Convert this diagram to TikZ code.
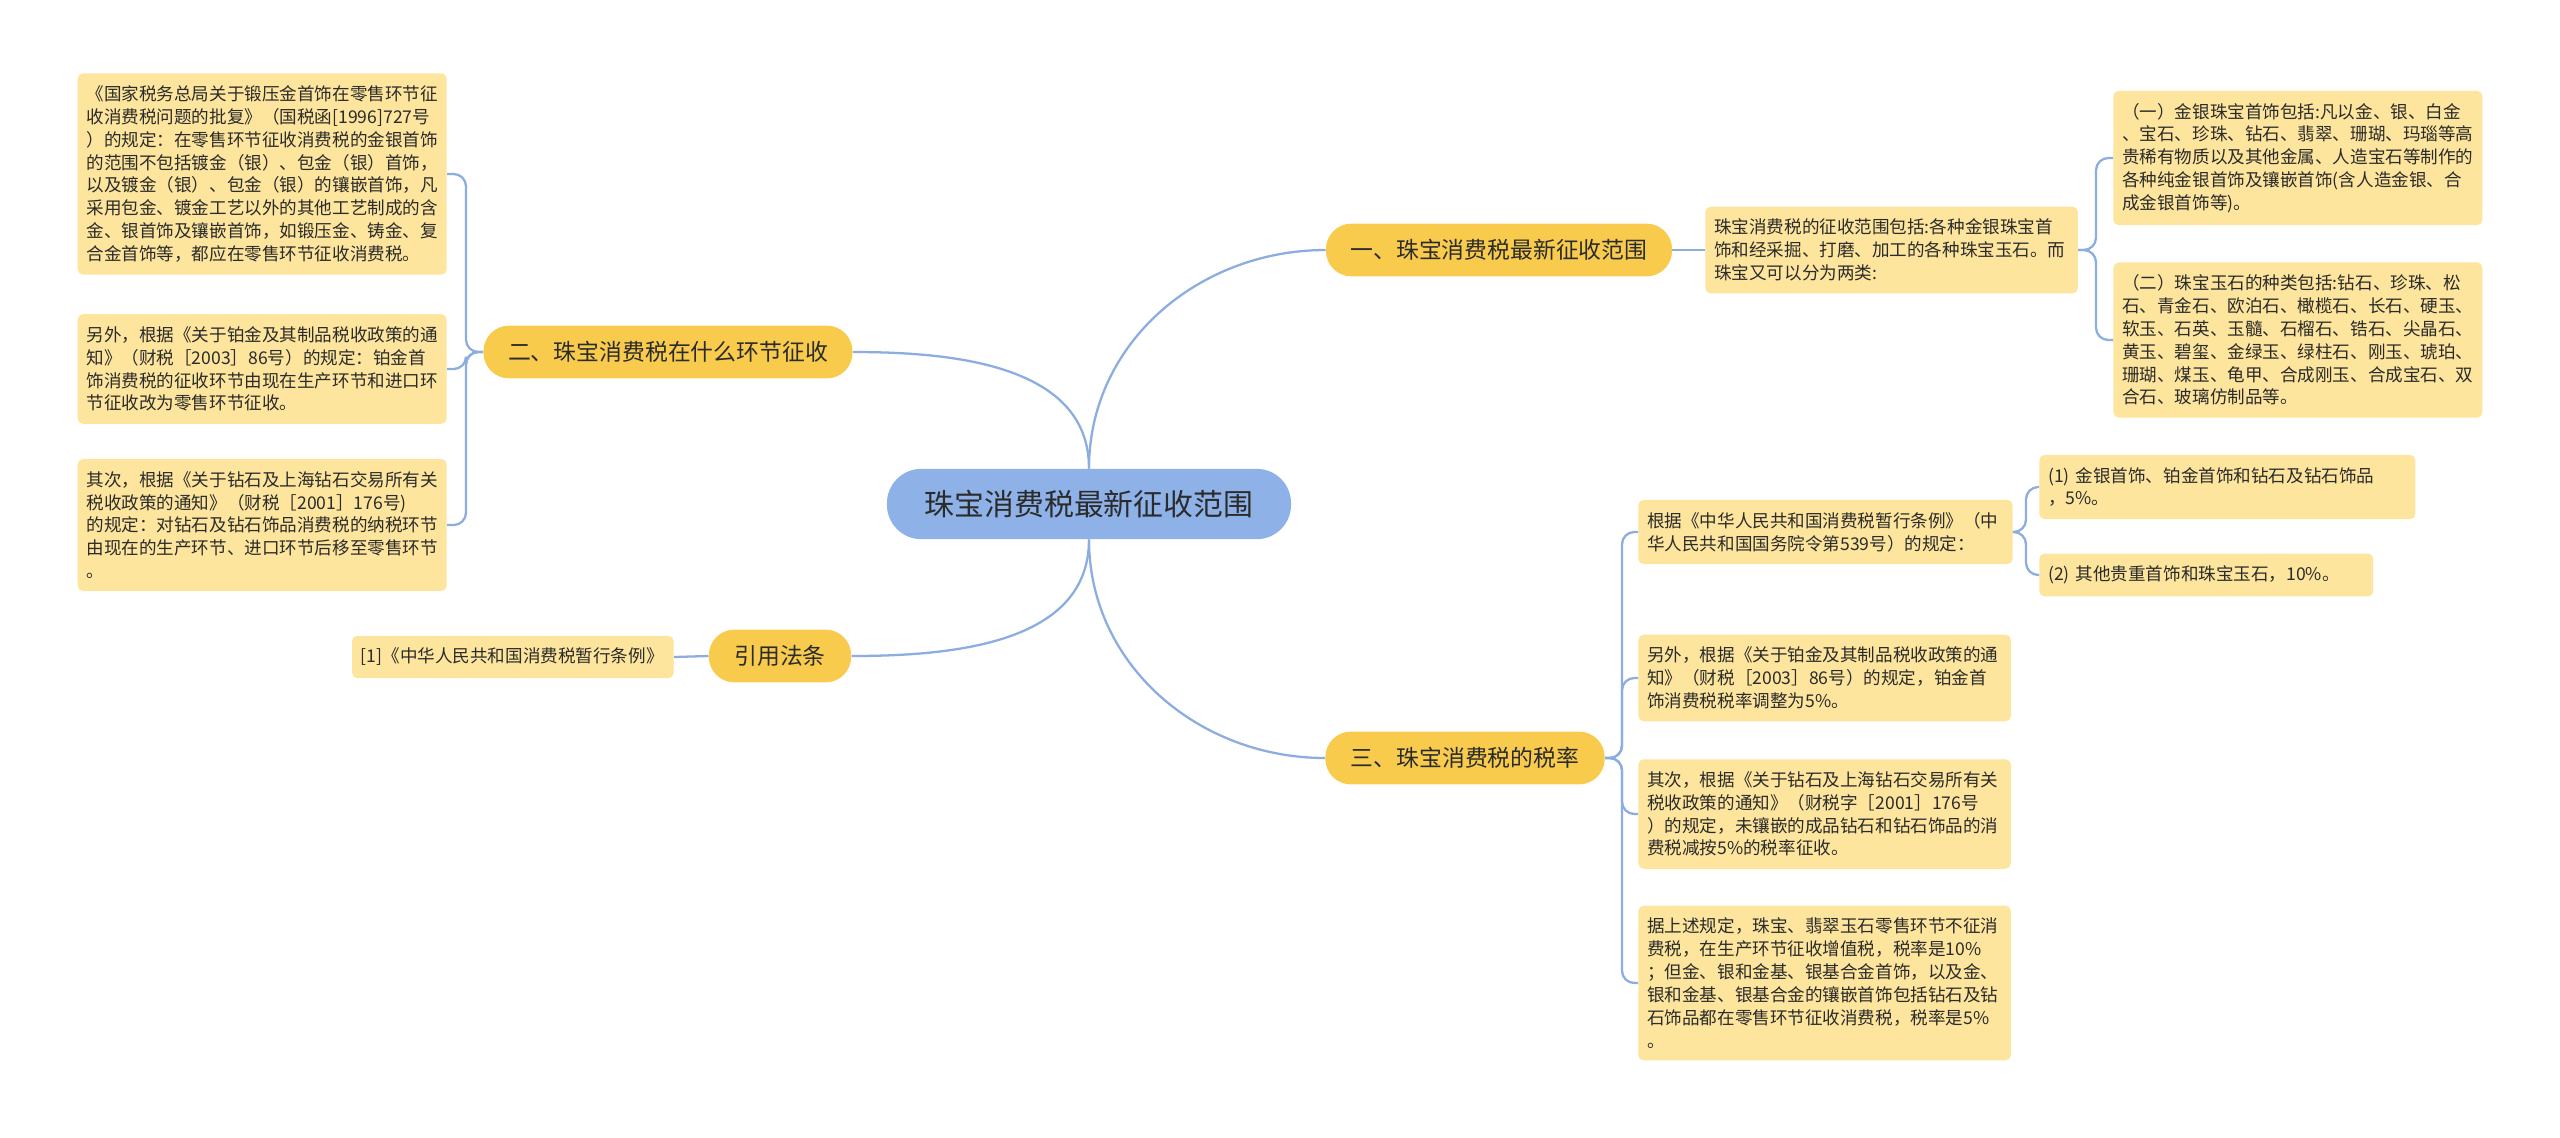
\documentclass[tikz,border=0pt]{standalone}
\usepackage{fontspec}
\setmainfont{Noto Sans CJK SC}
\definecolor{leafc}{HTML}{FDE59D}
\definecolor{branchc}{HTML}{F8CB4D}
\definecolor{rootc}{HTML}{8EB2E8}
\definecolor{linkc}{HTML}{8CADE0}
\definecolor{txtc}{HTML}{2B2B2B}

\begin{document}
\begin{tikzpicture}[x=0.02cm,y=-0.02cm,
	leaf/.style={fill=leafc,rounded corners=3pt,text=txtc,align=left,text width=#1,inner xsep=5pt,inner ysep=7pt,font=\fontsize{10}{13}\selectfont},
	leaf/.default=200pt,
	branch/.style={fill=branchc,rounded corners=14.5pt,text=txtc,minimum height=30pt,minimum width=#1,inner sep=0pt,font=\fontsize{13}{15}\selectfont},
	root/.style={fill=rootc,rounded corners=19.5pt,text=txtc,minimum height=40pt,minimum width=230pt,inner sep=0pt,font=\fontsize{17}{20}\selectfont},
	link/.style={draw=linkc,line width=1.3pt,rounded corners=7pt}]
	%\draw[help lines] (0,0) grid[step=100] (2560,1137);
	\useasboundingbox (0,0) rectangle (2560,1137);
	% centre
	\node (root) [root] at (1089,504) {珠宝消费税最新征收范围};
	\node (b1) [branch=197pt] at (1499,250) {一、珠宝消费税最新征收范围};
	\node (b2) [branch=210pt] at (668,352) {二、珠宝消费税在什么环节征收};
	\node (b3) [branch=159pt] at (1465,758) {三、珠宝消费税的税率};
	\node (b4) [branch=81pt] at (780,656) {引用法条};
	% left side
	\node (l1) [leaf,anchor=east] at (447,174) {《国家税务总局关于锻压金首饰在零售环节征\\收消费税问题的批复》（国税函[1996]727号\\）的规定：在零售环节征收消费税的金银首饰\\的范围不包括镀金（银）、包金（银）首饰，\\以及镀金（银）、包金（银）的镶嵌首饰，凡\\采用包金、镀金工艺以外的其他工艺制成的含\\金、银首饰及镶嵌首饰，如锻压金、铸金、复\\合金首饰等，都应在零售环节征收消费税。};
	\node (l2) [leaf,anchor=east] at (447,369) {另外，根据《关于铂金及其制品税收政策的通\\知》（财税［2003］86号）的规定：铂金首\\饰消费税的征收环节由现在生产环节和进口环\\节征收改为零售环节征收。};
	\node (l3) [leaf,anchor=east] at (447,525) {其次，根据《关于钻石及上海钻石交易所有关\\税收政策的通知》（财税［2001］176号)\\的规定：对钻石及钻石饰品消费税的纳税环节\\由现在的生产环节、进口环节后移至零售环节\\。};
	\node (f1) [leaf=173pt,anchor=east] at (674,657) {[1]《中华人民共和国消费税暂行条例》};
	% right side, first branch
	\node (n1) [leaf=202pt,anchor=west] at (1705,250) {珠宝消费税的征收范围包括:各种金银珠宝首\\饰和经采掘、打磨、加工的各种珠宝玉石。而\\珠宝又可以分为两类:};
	\node (n11) [leaf,anchor=west] at (2113,158) {（一）金银珠宝首饰包括:凡以金、银、白金\\、宝石、珍珠、钻石、翡翠、珊瑚、玛瑙等高\\贵稀有物质以及其他金属、人造宝石等制作的\\各种纯金银首饰及镶嵌首饰(含人造金银、合\\成金银首饰等)。};
	\node (n12) [leaf,anchor=west] at (2113,340) {（二）珠宝玉石的种类包括:钻石、珍珠、松\\石、青金石、欧泊石、橄榄石、长石、硬玉、\\软玉、石英、玉髓、石榴石、锆石、尖晶石、\\黄玉、碧玺、金绿玉、绿柱石、刚玉、琥珀、\\珊瑚、煤玉、龟甲、合成刚玉、合成宝石、双\\合石、玻璃仿制品等。};
	% right side, third branch
	\node (r1) [leaf=203pt,anchor=west] at (1638,532) {根据《中华人民共和国消费税暂行条例》（中\\华人民共和国国务院令第539号）的规定：};
	\node (r11) [leaf=204pt,anchor=west] at (2039,487) {(1) 金银首饰、铂金首饰和钻石及钻石饰品\\，5\%。};
	\node (r12) [leaf=180pt,anchor=west] at (2039,575) {(2) 其他贵重首饰和珠宝玉石，10\%。};
	\node (r2) [leaf=202pt,anchor=west] at (1638,678) {另外，根据《关于铂金及其制品税收政策的通\\知》（财税［2003］86号）的规定，铂金首\\饰消费税税率调整为5\%。};
	\node (r3) [leaf=202pt,anchor=west] at (1638,814) {其次，根据《关于钻石及上海钻石交易所有关\\税收政策的通知》（财税字［2001］176号\\）的规定，未镶嵌的成品钻石和钻石饰品的消\\费税减按5\%的税率征收。};
	\node (r4) [leaf=202pt,anchor=west] at (1638,983) {据上述规定，珠宝、翡翠玉石零售环节不征消\\费税，在生产环节征收增值税，税率是10\%\\；但金、银和金基、银基合金首饰，以及金、\\银和金基、银基合金的镶嵌首饰包括钻石及钻\\石饰品都在零售环节征收消费税，税率是5\%\\。};
	% junctions
	\coordinate (j2) at (466,352);
	\coordinate (j1) at (2096,250);
	\coordinate (j3) at (1622,758);
	\coordinate (j31) at (2026,532);
	% links
	\draw[link] (root.north) to[out=90,in=180] (b1.west);
	\draw[link] (root.north) to[out=90,in=0] (b2.east);
	\draw[link] (root.south) to[out=-90,in=180] (b3.west);
	\draw[link] (root.south) to[out=-90,in=0] (b4.east);
	\draw[link] (b4.west) -- (f1.east);
	\draw[link] (b1.east) -- (n1.west);
	\draw[link] (b2.west) -- (j2) |- (l1.east);
	\draw[link] (b2.west) -- (j2) |- (l2.east);
	\draw[link] (b2.west) -- (j2) |- (l3.east);
	\draw[link] (n1.east) -- (j1) |- (n11.west);
	\draw[link] (n1.east) -- (j1) |- (n12.west);
	\draw[link] (b3.east) -- (j3) |- (r1.west);
	\draw[link] (b3.east) -- (j3) |- (r2.west);
	\draw[link] (b3.east) -- (j3) |- (r3.west);
	\draw[link] (b3.east) -- (j3) |- (r4.west);
	\draw[link] (r1.east) -- (j31) |- (r11.west);
	\draw[link] (r1.east) -- (j31) |- (r12.west);
\end{tikzpicture}
\end{document}
